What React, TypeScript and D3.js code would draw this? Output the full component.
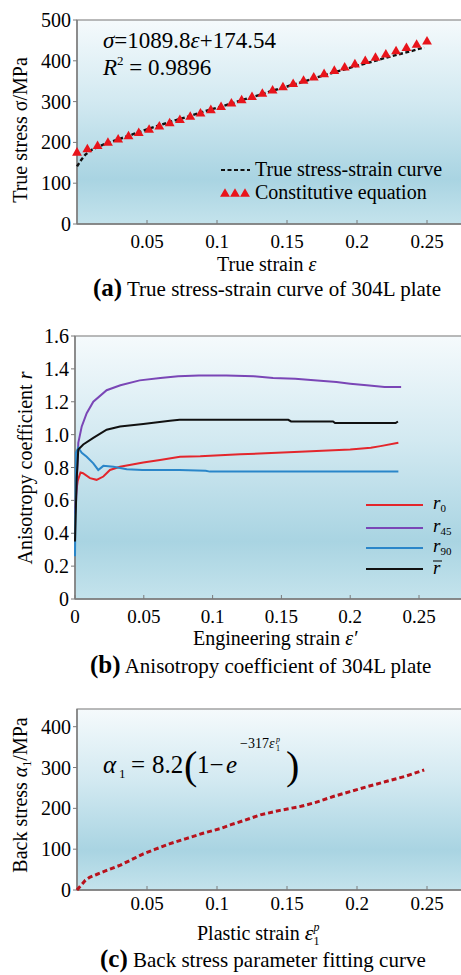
import * as d3 from 'd3';

// ---- panel (a): true stress-strain
const curveStrainA = [0, 0.003, 0.006, 0.01, 0.015, 0.02, 0.03, 0.04, 0.05, 0.06, 0.07, 0.08, 0.09, 0.1, 0.11, 0.12, 0.13, 0.14, 0.15, 0.16, 0.17, 0.18, 0.19, 0.2, 0.21, 0.22, 0.23, 0.24, 0.248];
const curveStressA = [141, 157, 170, 181, 189, 196, 208, 220, 232, 243, 254, 264, 275, 285, 295, 306, 316, 327, 337, 347, 358, 368, 378, 388, 397, 407, 416, 425, 433];
const eqStrainA = [0, 0.0074, 0.0147, 0.0221, 0.0294, 0.0368, 0.0441, 0.0515, 0.0588, 0.0662, 0.0735, 0.0809, 0.0882, 0.0956, 0.1029, 0.1103, 0.1176, 0.125, 0.1324, 0.1397, 0.1471, 0.1544, 0.1618, 0.1691, 0.1765, 0.1838, 0.1912, 0.1985, 0.2059, 0.2132, 0.2206, 0.2279, 0.2353, 0.2426, 0.25];
const eqStressA = [174.5, 182.6, 190.6, 198.6, 206.6, 214.6, 222.6, 230.6, 238.6, 246.7, 254.6, 262.7, 270.6, 278.7, 286.6, 294.7, 302.7, 310.8, 318.8, 326.8, 334.8, 342.8, 350.8, 358.8, 366.9, 374.9, 382.9, 390.8, 398.9, 406.9, 414.9, 422.9, 431.0, 438.9, 447.0];
const yTicksA = [0, 100, 200, 300, 400, 500];
const xTicksA = [0.05, 0.1, 0.15, 0.2, 0.25];

// ---- panel (b): anisotropy coefficient
const r0Strain = [0, 0.001, 0.002, 0.004, 0.0058, 0.0109, 0.0157, 0.0206, 0.0254, 0.0327, 0.0496, 0.0618, 0.0763, 0.091, 0.12, 0.1635, 0.2, 0.215, 0.222, 0.235];
const r0Value = [0.55, 0.66, 0.72, 0.77, 0.765, 0.735, 0.725, 0.745, 0.785, 0.805, 0.83, 0.845, 0.865, 0.868, 0.88, 0.896, 0.91, 0.92, 0.93, 0.95];
const r45Strain = [0, 0.0008, 0.0015, 0.0024, 0.0049, 0.0085, 0.0133, 0.023, 0.033, 0.047, 0.062, 0.075, 0.09, 0.11, 0.13, 0.144, 0.16, 0.176, 0.19, 0.2, 0.212, 0.225, 0.237];
const r45Value = [0.52, 0.6, 0.75, 0.95, 1.05, 1.13, 1.2, 1.27, 1.3, 1.33, 1.345, 1.355, 1.36, 1.36, 1.355, 1.345, 1.34, 1.33, 1.32, 1.31, 1.3, 1.29, 1.29];
const r90Strain = [0, 0.0007, 0.0024, 0.0049, 0.0085, 0.0133, 0.0169, 0.0206, 0.028, 0.0376, 0.049, 0.076, 0.095, 0.098, 0.235];
const r90Value = [0.26, 0.89, 0.92, 0.89, 0.865, 0.825, 0.785, 0.81, 0.805, 0.79, 0.785, 0.785, 0.78, 0.775, 0.775];
const rBarStrain = [0, 0.0012, 0.0024, 0.006, 0.0133, 0.023, 0.0327, 0.0496, 0.069, 0.076, 0.155, 0.157, 0.1875, 0.189, 0.233, 0.2347];
const rBarValue = [0.35, 0.73, 0.91, 0.94, 0.98, 1.03, 1.05, 1.065, 1.085, 1.09, 1.09, 1.08, 1.08, 1.07, 1.07, 1.08];
const yTicksB = [0, 0.2, 0.4, 0.6, 0.8, 1.0, 1.2, 1.4, 1.6];
const xTicksB = [0, 0.05, 0.1, 0.15, 0.2, 0.25];
const seriesB = [
  { name: '0', color: '#e3262c', xs: r0Strain, ys: r0Value },
  { name: '45', color: '#7a46b6', xs: r45Strain, ys: r45Value },
  { name: '90', color: '#2a86c9', xs: r90Strain, ys: r90Value },
  { name: 'bar', color: '#111111', xs: rBarStrain, ys: rBarValue },
];

// ---- panel (c): back stress
const backStrain = [0, 0.003, 0.006, 0.009, 0.014, 0.019, 0.025, 0.031, 0.04, 0.047, 0.056, 0.066, 0.078, 0.09, 0.102, 0.11, 0.119, 0.131, 0.145, 0.16, 0.17, 0.183, 0.195, 0.207, 0.22, 0.235, 0.248];
const backStress = [0, 12, 24, 31, 38, 45, 53, 61, 76, 88, 100, 113, 126, 139, 150, 160, 170, 184, 195, 205, 214, 229, 241, 253, 265, 279, 294];
const yTicksC = [0, 100, 200, 300, 400];

const font = "'Liberation Serif', 'Times New Roman', serif";
const axisColor = '#7a7a7a';

const xA = d3.scaleLinear().domain([0, 0.275]).range([77, 462]);
const yA = d3.scaleLinear().domain([0, 500]).range([224, 20]);
const xB = d3.scaleLinear().domain([0, 0.25]).range([75, 419]);
const yB = d3.scaleLinear().domain([0, 1.6]).range([599, 336]);
const xC = d3.scaleLinear().domain([0, 0.275]).range([77, 462]);
const yC = d3.scaleLinear().domain([0, 400]).range([890, 726.7]);

function Frame({ left, top, bottom, x, y, xTicks, yTicks, yFmt, xFmt, xLabelY }) {
  return (
    <g>
      <rect x={left} y={top} width={470 - left} height={bottom - top} fill="url(#bg)" stroke="#8c8c8c" strokeWidth={1.2} />
      <line x1={left} x2={left} y1={top} y2={bottom} stroke={axisColor} strokeWidth={1.4} />
      <line x1={left} x2={470} y1={bottom} y2={bottom} stroke={axisColor} strokeWidth={1.4} />
      {yTicks.map((t) => (
        <g key={'y' + t}>
          <line x1={left - 4} x2={left} y1={y(t)} y2={y(t)} stroke={axisColor} strokeWidth={1} />
          <text x={left - 6} y={y(t)} dy="0.35em" textAnchor="end" fontSize={20}>{yFmt(t)}</text>
        </g>
      ))}
      {xTicks.map((t) => (
        <g key={'x' + t}>
          <line x1={x(t)} x2={x(t)} y1={bottom} y2={bottom - 4} stroke={axisColor} strokeWidth={1} />
          <text x={x(t)} y={xLabelY} textAnchor="middle" fontSize={19}>{xFmt(t)}</text>
        </g>
      ))}
    </g>
  );
}

export default function App() {
  const lineA = d3.line<number>().x((d, i) => xA(curveStrainA[i])).y((d) => yA(d));
  const tri = d3.symbol().type(d3.symbolTriangle).size(42);
  const lineC = d3.line<number>().x((d, i) => xC(backStrain[i])).y((d) => yC(d));
  const fmt = (t) => String(t);
  const fmtB = (t) => (t === 0 ? '0' : t.toFixed(1));

  return (
    <svg width={461} height={975} style={{ position: 'absolute', left: 0, top: 0, background: '#fff', fontFamily: font }}>
      <defs>
        <linearGradient id="bg" x1="0" y1="0" x2="0" y2="1">
          <stop offset="0%" stopColor="#f5fafc" />
          <stop offset="40%" stopColor="#d2e9f1" />
          <stop offset="78%" stopColor="#a9d4e2" />
          <stop offset="100%" stopColor="#c4e3ec" />
        </linearGradient>
      </defs>

      {/* (a) */}
      <Frame left={77} top={20} bottom={224} x={xA} y={yA} xTicks={xTicksA} yTicks={yTicksA} yFmt={fmt} xFmt={fmt} xLabelY={248} />
      <path d={lineA(curveStressA)} fill="none" stroke="#111" strokeWidth={2.4} strokeDasharray="4,2.5" />
      {eqStressA.map((v, i) => (
        <path key={i} d={tri()} transform={`translate(${xA(eqStrainA[i])},${yA(v)})`} fill="#e8141b" />
      ))}
      <text x={103} y={48} fontSize={23}>
        <tspan fontStyle="italic">σ</tspan>=1089.8<tspan fontStyle="italic">ε</tspan>+174.54
      </text>
      <text x={103} y={75} fontSize={23}>
        <tspan fontStyle="italic">R</tspan><tspan fontSize={13} dy={-10}>2</tspan><tspan dy={10}> = 0.9896</tspan>
      </text>
      <line x1={221} x2={250} y1={170} y2={170} stroke="#111" strokeWidth={2} strokeDasharray="4,2.5" />
      <text x={255} y={176} fontSize={20}>True stress-strain curve</text>
      {[225, 235, 245].map((cx) => (
        <path key={cx} d={tri()} transform={`translate(${cx},194)`} fill="#e8141b" />
      ))}
      <text x={255} y={199} fontSize={20}>Constitutive equation</text>
      <text transform="translate(27,130) rotate(-90)" textAnchor="middle" fontSize={20}>True stress σ/MPa</text>
      <text x={217} y={271} fontSize={20}>True strain <tspan fontStyle="italic">ε</tspan></text>
      <text x={93} y={296} fontSize={21}>
        <tspan fontWeight="bold" fontSize={25}>(a)</tspan> True stress-strain curve of 304L plate
      </text>

      {/* (b) */}
      <Frame left={75} top={336} bottom={599} x={xB} y={yB} xTicks={xTicksB} yTicks={yTicksB} yFmt={fmtB} xFmt={fmt} xLabelY={623} />
      {seriesB.map((s) => {
        const ln = d3.line<number>().x((d, i) => xB(s.xs[i])).y((d) => yB(d));
        return <path key={s.name} d={ln(s.ys)} fill="none" stroke={s.color} strokeWidth={2} />;
      })}
      {seriesB.map((s, i) => {
        const ly = [505, 528, 548, 569][i];
        return (
          <g key={'lg' + s.name}>
            <line x1={366} x2={423} y1={ly} y2={ly} stroke={s.color} strokeWidth={2} />
            {s.name === 'bar' ? (
              <g>
                <text x={433} y={ly + 5} fontSize={19} fontStyle="italic">r</text>
                <line x1={433} x2={442} y1={ly - 8} y2={ly - 8} stroke="#111" strokeWidth={1.1} />
              </g>
            ) : (
              <text x={433} y={ly + 4} fontSize={19} fontStyle="italic">
                r<tspan fontStyle="normal" fontSize={11} dy={3}>{s.name}</tspan>
              </text>
            )}
          </g>
        );
      })}
      <text transform="translate(32,468) rotate(-90)" textAnchor="middle" fontSize={20}>
        Anisotropy coefficient <tspan fontStyle="italic">r</tspan>
      </text>
      <text x={193} y={645} fontSize={20}>Engineering strain <tspan fontStyle="italic">ε′</tspan></text>
      <text x={90} y={673} fontSize={21}>
        <tspan fontWeight="bold" fontSize={25}>(b)</tspan> Anisotropy coefficient of 304L plate
      </text>

      {/* (c) */}
      <Frame left={77} top={709} bottom={890} x={xC} y={yC} xTicks={xTicksA} yTicks={yTicksC} yFmt={fmt} xFmt={fmt} xLabelY={910} />
      <path d={lineC(backStress)} fill="none" stroke="#b8121c" strokeWidth={3} strokeDasharray="5,3" />
      <g fontSize={25}>
        <text x={103} y={773} fontStyle="italic">α</text>
        <text x={119} y={778} fontSize={13}>1</text>
        <text x={131} y={773}>=</text>
        <text x={152} y={773}>8.2</text>
        <text x={184} y={779} fontSize={40}>(</text>
        <text x={197} y={773}>1−</text>
        <text x={226} y={773} fontStyle="italic">e</text>
        <text x={240} y={748} fontSize={14}>−317</text>
        <text x={269} y={748} fontSize={14} fontStyle="italic">ε</text>
        <text x={276} y={751} fontSize={8}>1</text>
        <text x={276} y={742} fontSize={8} fontStyle="italic">p</text>
        <text x={286} y={779} fontSize={40}>)</text>
      </g>
      <text transform="translate(27,795) rotate(-90)" textAnchor="middle" fontSize={20}>
        Back stress <tspan fontStyle="italic">α</tspan><tspan fontSize={12} dy={4}>1</tspan><tspan dy={-4}>/MPa</tspan>
      </text>
      <text x={197} y={940} fontSize={20}>
        Plastic strain <tspan fontStyle="italic" fontSize={22}>ε</tspan>
        <tspan fontSize={12} dy={5}>1</tspan>
        <tspan fontSize={12} dy={-14} dx={-6} fontStyle="italic">p</tspan>
      </text>
      <text x={100} y={967} fontSize={21}>
        <tspan fontWeight="bold" fontSize={25}>(c)</tspan> Back stress parameter fitting curve
      </text>
    </svg>
  );
}
